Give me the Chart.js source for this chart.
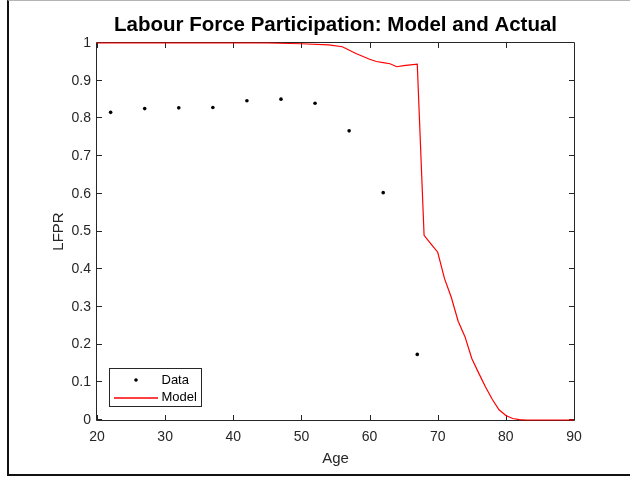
<!DOCTYPE html>
<html>
<head>
<meta charset="utf-8">
<script src="https://cdn.jsdelivr.net/npm/chart.js@4.4.1/dist/chart.umd.min.js"></script>
<style>
  body { margin: 0; background: #fff; }
  #wrap { position: relative; width: 630px; height: 479px; }
  #frame {
    position: absolute; left: 7px; top: 0px; width: 640px; height: 476px;
    border-left: 2px solid #111; border-top: 1px solid #b4b4b4; border-bottom: 2px solid #111;
    pointer-events: none; box-sizing: border-box;
  }
</style>
</head>
<body>
<div id="wrap">
  <canvas id="graph" width="630" height="479"></canvas>
  <div id="frame"></div>
</div>
<script>
// survey data, 5-year age groups
const dataAges = [22, 27, 32, 37, 42, 47, 52, 57, 62, 67];
const dataLfpr = [0.816, 0.826, 0.828, 0.829, 0.847, 0.851, 0.84, 0.767, 0.603, 0.174];

// model output
const modelAges = [20, 45, 50, 54, 56, 58, 60, 61, 62, 63, 64, 65, 66, 67, 68, 69, 70, 71, 72, 73, 74, 75, 76, 77, 78, 79, 80, 81, 82, 83, 90];
const modelLfpr = [1.0, 1.0, 0.998, 0.995, 0.99, 0.972, 0.957, 0.951, 0.948, 0.945, 0.937, 0.94, 0.942, 0.944, 0.49, 0.467, 0.445, 0.375, 0.325, 0.262, 0.221, 0.163, 0.125, 0.088, 0.055, 0.027, 0.012, 0.004, 0.001, 0, 0];

const xTicks = [20, 30, 40, 50, 60, 70, 80, 90];
const yTicks = [0, 0.1, 0.2, 0.3, 0.4, 0.5, 0.6, 0.7, 0.8, 0.9, 1];
const yTickLabels = ['0', '0.1', '0.2', '0.3', '0.4', '0.5', '0.6', '0.7', '0.8', '0.9', '1'];

const axisColor = '#262626';
const modelColor = '#ff0000';
const dataColor = '#000000';
Chart.defaults.font.family = "'Liberation Sans', Arial, Helvetica, sans-serif";

// box + inward ticks on all four sides (matlab style)
const boxPlugin = {
  id: 'box',
  beforeDatasetsDraw(chart) {
    const {ctx, chartArea: a, scales} = chart;
    const tl = 5;
    ctx.save();
    ctx.strokeStyle = axisColor;
    ctx.lineWidth = 1;
    ctx.beginPath();
    ctx.rect(a.left - 0.5, a.top - 0.5, a.right - a.left + 1, a.bottom - a.top + 1);
    xTicks.forEach(v => {
      const px = Math.round(scales.x.getPixelForValue(v)) + 0.5;
      ctx.moveTo(px, a.bottom); ctx.lineTo(px, a.bottom - tl);
      ctx.moveTo(px, a.top); ctx.lineTo(px, a.top + tl);
    });
    yTicks.forEach(v => {
      const py = Math.round(scales.y.getPixelForValue(v)) - 0.5;
      ctx.moveTo(a.left, py); ctx.lineTo(a.left + tl, py);
      ctx.moveTo(a.right, py); ctx.lineTo(a.right - tl, py);
    });
    ctx.stroke();
    ctx.restore();
  },
  afterDatasetsDraw(chart) {
    // legend, lower left inside the axes
    const {ctx, chartArea: a} = chart;
    const ds = chart.data.datasets;
    const x0 = a.left + 12.5, y0 = a.bottom - 51.5, w = 92, h = 38;
    ctx.save();
    ctx.fillStyle = '#fff';
    ctx.fillRect(x0, y0, w, h);
    ctx.strokeStyle = axisColor;
    ctx.lineWidth = 1;
    ctx.strokeRect(x0, y0, w, h);
    ctx.font = "13px 'Liberation Sans', Arial, sans-serif";
    ctx.textBaseline = 'middle';
    const row1 = y0 + 11.5, row2 = y0 + 29.5;
    ctx.beginPath();
    ctx.fillStyle = dataColor;
    ctx.arc(x0 + 26.5, row1, 1.8, 0, Math.PI * 2);
    ctx.fill();
    ctx.beginPath();
    ctx.strokeStyle = modelColor;
    ctx.lineWidth = 1.6;
    ctx.moveTo(x0 + 4.5, row2); ctx.lineTo(x0 + 48.5, row2);
    ctx.stroke();
    ctx.fillStyle = '#000';
    ctx.fillText(ds[0].label, x0 + 52, row1);
    ctx.fillText(ds[1].label, x0 + 52, row2 - 0.5);
    ctx.restore();
  }
};

new Chart(document.getElementById('graph'), {
  type: 'scatter',
  data: {
    datasets: [
      {
        label: 'Data',
        data: dataAges.map((a, i) => ({x: a, y: dataLfpr[i]})),
        backgroundColor: dataColor,
        borderWidth: 0,
        pointRadius: 1.8,
        pointHoverRadius: 1.8
      },
      {
        label: 'Model',
        type: 'line',
        data: modelAges.map((a, i) => ({x: a, y: modelLfpr[i]})),
        borderColor: modelColor,
        borderWidth: 1.2,
        pointRadius: 0,
        tension: 0,
        fill: false,
        clip: 4
      }
    ]
  },
  options: {
    responsive: false,
    animation: false,
    events: [],
    layout: { padding: { left: 0, right: 56, top: 0, bottom: 0 } },
    plugins: {
      legend: { display: false },
      tooltip: { enabled: false },
      title: {
        display: true,
        text: 'Labour Force Participation: Model and Actual',
        fullSize: false,
        color: '#000',
        font: { size: 20.5, weight: 'bold' },
        padding: { top: 13.2, bottom: 5.2 }
      }
    },
    scales: {
      x: {
        type: 'linear',
        min: 20, max: 90,
        afterFit: s => { s.height = 59; },
        afterBuildTicks: s => { s.ticks = xTicks.map(v => ({value: v})); },
        grid: { display: false, drawTicks: false },
        border: { display: false },
        ticks: { color: axisColor, font: { size: 14 }, padding: 9, maxRotation: 0, callback: v => String(v) },
        title: { display: true, text: 'Age', color: axisColor, font: { size: 15 }, padding: { top: 0, bottom: 11 } }
      },
      y: {
        min: 0, max: 1,
        afterFit: s => { s.width = 97; },
        afterBuildTicks: s => { s.ticks = yTicks.map(v => ({value: v})); },
        grid: { display: false, drawTicks: false },
        border: { display: false },
        ticks: { color: axisColor, font: { size: 14 }, padding: 6,
          callback: v => yTickLabels[yTicks.findIndex(t => Math.abs(t - v) < 1e-9)] },
        title: { display: true, text: 'LFPR', color: axisColor, font: { size: 15 }, padding: { top: 50, bottom: 0 } }
      }
    }
  },
  plugins: [boxPlugin]
});
</script>
</body>
</html>
